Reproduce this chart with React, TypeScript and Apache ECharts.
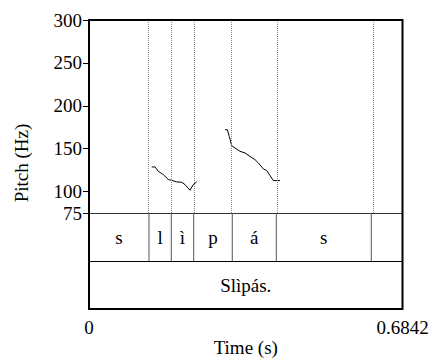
import React, { useEffect, useRef } from "react";
import * as echarts from "echarts";

const TOTAL = 0.6842;
const pitchTicks = [75, 100, 150, 200, 250, 300];
const timeTicks = [0, 0.6842];
const boundaries = [0.1309, 0.1796, 0.2285, 0.3127, 0.4088, 0.6161];
const tier1Labels = ["s", "l", "ì", "p", "á", "s", ""];
const tier2Labels = ["Slìpás."];

const contour1Times = [0.1368, 0.144, 0.1512, 0.1622, 0.1731, 0.1805, 0.1914, 0.2023, 0.2095, 0.2204, 0.2276, 0.235];
const contour1Hz = [128.7, 128.7, 123.6, 119.8, 114, 113.1, 111.3, 110.8, 108.1, 101.5, 108.1, 111.3];

const contour2Times = [0.2968, 0.3018, 0.3062, 0.3114, 0.3186, 0.3296, 0.3405, 0.3514, 0.3623, 0.3695, 0.3805, 0.3879, 0.3951, 0.4023, 0.4168];
const contour2Hz = [172.1, 172.1, 164.3, 153.5, 150.8, 146.9, 145, 141, 137.2, 133.4, 126.4, 124.4, 118.6, 112.8, 112.8];

const FONT = "Liberation Serif";

function buildIntervals() {
  const items: { start: number; end: number; tier: number; label: string }[] = [];
  const edges = [0, ...boundaries, TOTAL];
  for (let i = 0; i < edges.length - 1; i++) {
    items.push({ start: edges[i], end: edges[i + 1], tier: 0, label: tier1Labels[i] });
  }
  items.push({ start: 0, end: TOTAL, tier: 1, label: tier2Labels[0] });
  return items;
}

export default function App() {
  const ref = useRef<HTMLDivElement>(null);
  useEffect(() => {
    if (!ref.current) return;
    const chart = echarts.init(ref.current, undefined, { renderer: "svg" });
    const intervals = buildIntervals();
    const L = 89, W = 313.5;
    chart.setOption({
      animation: false,
      backgroundColor: "#fff",
      textStyle: { fontFamily: FONT },
      grid: [
        { left: L, top: 20, width: W, height: 193, show: false },
        { left: L, top: 213, width: W, height: 96, show: false },
        { left: L, top: 20, width: W, height: 289, show: true, borderColor: "#000", borderWidth: 2, backgroundColor: "transparent", z: 10 },
      ],
      xAxis: [
        { type: "value", gridIndex: 0, min: 0, max: TOTAL, show: false },
        {
          type: "value", gridIndex: 1, min: 0, max: TOTAL,
          axisLine: { show: false },
          axisTick: { show: true, customValues: timeTicks, length: 6, lineStyle: { color: "#000", width: 1 } },
          axisLabel: {
            customValues: timeTicks, margin: 9, color: "#000", fontSize: 19, fontFamily: FONT,
            formatter: (v: number) => (v === 0 ? "0" : TOTAL.toFixed(4)),
          },
          splitLine: { show: false },
          name: "Time (s)", nameLocation: "middle", nameGap: 22,
          nameTextStyle: { color: "#000", fontSize: 19, fontFamily: FONT },
        },
        { type: "value", gridIndex: 2, min: 0, max: TOTAL, show: false },
      ],
      yAxis: [
        {
          type: "value", gridIndex: 0, min: 75, max: 300,
          axisLine: { show: false },
          axisTick: { show: true, customValues: pitchTicks, length: 6, lineStyle: { color: "#000", width: 1 } },
          axisLabel: { customValues: pitchTicks, margin: 7, color: "#000", fontSize: 19, fontFamily: FONT },
          splitLine: { show: false },
        },
        {
          type: "value", gridIndex: 1, min: 0, max: 2, interval: 1, inverse: true,
          axisLine: { show: false }, axisTick: { show: false }, axisLabel: { show: false },
          splitLine: { show: true, lineStyle: { color: ["#333", "#000", "#000"], width: 1 } },
        },
        { type: "value", gridIndex: 2, min: 0, max: 1, show: false },
      ],
      graphic: [
        {
          type: "text", x: 21, y: 163, rotation: Math.PI / 2,
          style: { text: "Pitch (Hz)", align: "center", verticalAlign: "middle", fill: "#000", fontSize: 19, fontFamily: FONT },
        },
      ],
      series: [
        {
          type: "line", xAxisIndex: 0, yAxisIndex: 0, showSymbol: false, symbol: "none",
          data: contour1Times.map((t, i) => [t, contour1Hz[i]]),
          lineStyle: { color: "#000", width: 1 },
          markLine: {
            silent: true, symbol: ["none", "none"], label: { show: false },
            lineStyle: { type: [1, 1], color: "#888", width: 1 },
            data: boundaries.map((b) => ({ xAxis: b })),
          },
        },
        {
          type: "line", xAxisIndex: 0, yAxisIndex: 0, showSymbol: false, symbol: "none",
          data: contour2Times.map((t, i) => [t, contour2Hz[i]]),
          lineStyle: { color: "#000", width: 1 },
        },
        {
          type: "custom", xAxisIndex: 1, yAxisIndex: 1,
          data: intervals.map((it) => [it.start, it.end, it.tier]),
          encode: { x: [0, 1], y: 2 },
          renderItem: (params: any, api: any) => {
            const s = api.value(0), e = api.value(1), tier = api.value(2);
            const p0 = api.coord([s, tier]);
            const p1 = api.coord([e, tier + 1]);
            const label = intervals[params.dataIndex].label;
            const children: any[] = [];
            if (s > 0) {
              children.push({
                type: "line",
                shape: { x1: p0[0], y1: p0[1], x2: p0[0], y2: p1[1] },
                style: { stroke: "#555", lineWidth: 1 },
              });
            }
            children.push({
              type: "text",
              style: {
                text: label, x: (p0[0] + p1[0]) / 2, y: (p0[1] + p1[1]) / 2,
                align: "center", verticalAlign: "middle", fill: "#000", fontSize: 19, fontFamily: FONT,
              },
            });
            return { type: "group", children };
          },
        },
      ],
    });
    return () => chart.dispose();
  }, []);
  return <div ref={ref} style={{ position: "fixed", left: 0, top: 0, width: 433, height: 363 }} />;
}
